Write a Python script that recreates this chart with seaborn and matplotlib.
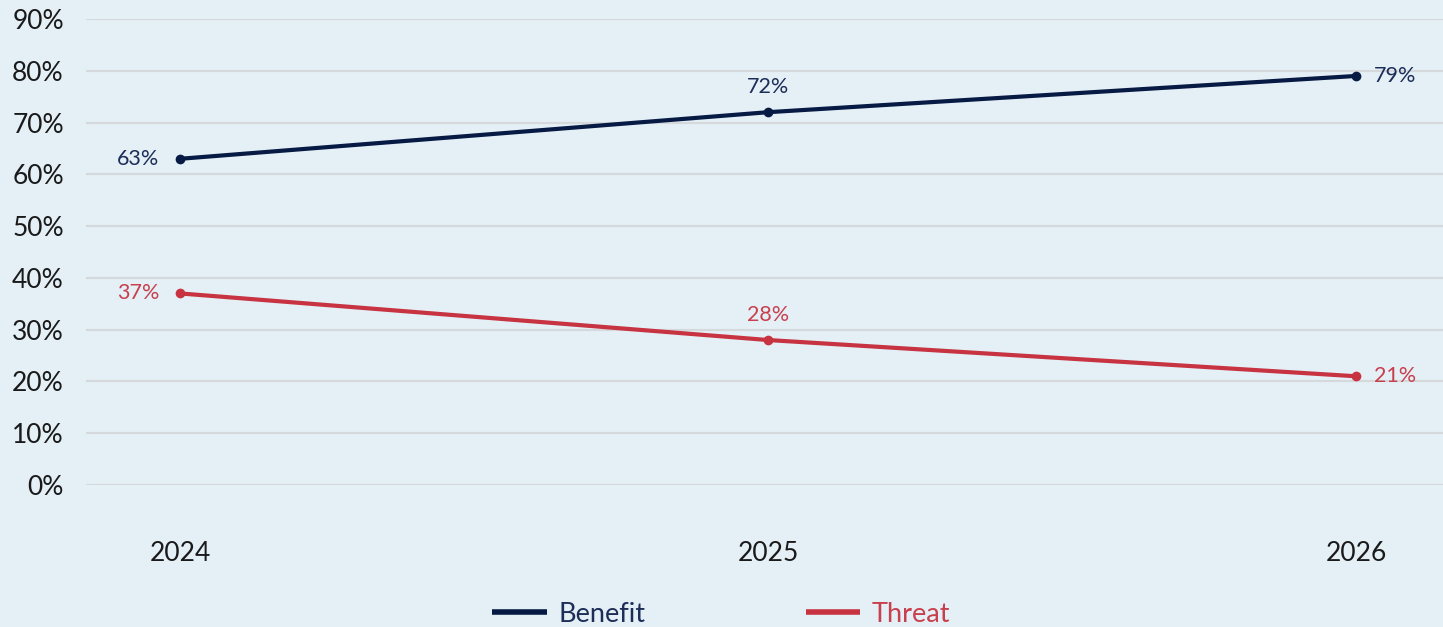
import matplotlib
matplotlib.use("Agg")
import matplotlib.pyplot as plt
import seaborn as sns
import pandas as pd
from matplotlib.lines import Line2D

years = ["2024", "2025", "2026"]
benefit = [0.63, 0.72, 0.79]
threat = [0.37, 0.28, 0.21]
series_names = ["Benefit", "Threat"]
y_ticks = [0.0, 0.1, 0.2, 0.3, 0.4, 0.5, 0.6, 0.7, 0.8, 0.9]

navy = "#061a44"
red = "#c73340"
navy_txt = "#1c2d58"
red_txt = "#c8404d"
bg = "#e4eff6"
grid = "#d6d9dc"

sns.set_theme(style="white")
plt.rcParams["font.family"] = ["Lato", "DejaVu Sans"]

df = pd.DataFrame({
    "year": years * 2,
    "x": list(range(len(years))) * 2,
    "value": benefit + threat,
    "series": [series_names[0]] * 3 + [series_names[1]] * 3,
})

fig = plt.figure(figsize=(14.43, 6.27), dpi=100, facecolor=bg)
ax = fig.add_axes([86 / 1443, 1 - 485 / 627, 1 - 86 / 1443, (485 - 19) / 627])
ax.set_facecolor(bg)

sns.lineplot(data=df, x="x", y="value", hue="series",
             palette={series_names[0]: navy, series_names[1]: red},
             linewidth=3.0, marker="o", markersize=7, markeredgewidth=0,
             ax=ax, legend=False)

ax.set_xlim(-0.16, 2.148)
ax.set_ylim(0, 0.9)
ax.set_yticks(y_ticks)
ax.set_yticklabels([f"{int(round(t * 100))}%" for t in y_ticks])
ax.set_xticks(range(len(years)))
ax.set_xticklabels(years)
ax.yaxis.grid(True, color=grid, linewidth=1.5)
ax.set_axisbelow(True)
for s in ax.spines.values():
    s.set_visible(False)
ax.tick_params(axis="y", length=0, pad=16, labelsize=19, labelcolor="#1a1a1a")
ax.tick_params(axis="x", length=0, pad=40, labelsize=19, labelcolor="#1a1a1a")
ax.set_xlabel("")
ax.set_ylabel("")

# value labels: left of first point, above middle, right of last
offsets = [((-15, 0), "right", "center"), ((0, 11), "center", "bottom"), ((13, 0), "left", "center")]
for vals, col in ((benefit, navy_txt), (threat, red_txt)):
    for i, v in enumerate(vals):
        (dx, dy), ha, va = offsets[i]
        ax.annotate(f"{int(round(v * 100))}%", (i, v), xytext=(dx, dy),
                    textcoords="offset points", ha=ha, va=va,
                    fontsize=15.5, color=col)

handles = [Line2D([0], [0], color=navy, linewidth=4, solid_capstyle="butt"),
           Line2D([0], [0], color=red, linewidth=4, solid_capstyle="butt")]
leg = fig.legend(handles, series_names, loc="center", bbox_to_anchor=(0.5, 1 - 614 / 627),
                 ncol=2, frameon=False, fontsize=19.5, handlelength=2.0,
                 handletextpad=0.45, columnspacing=5.9)
for t, c in zip(leg.get_texts(), (navy_txt, red_txt)):
    t.set_color(c)

fig.savefig("out.png", dpi=100, facecolor=bg)
